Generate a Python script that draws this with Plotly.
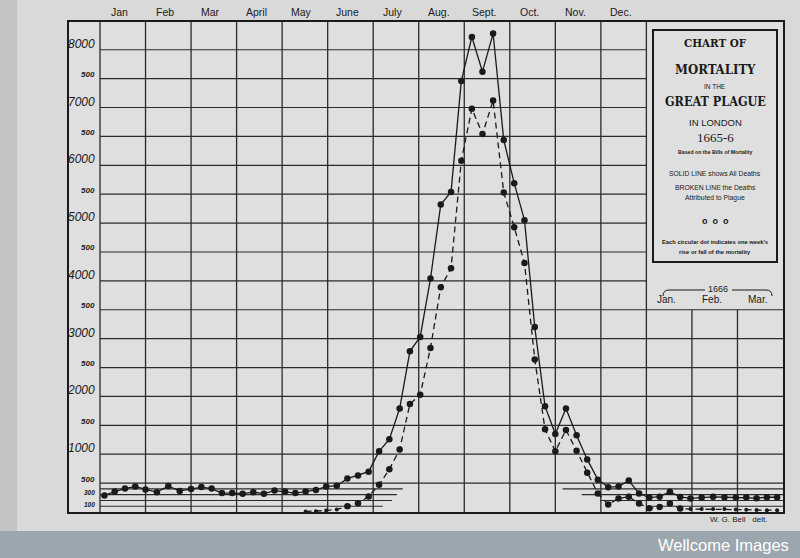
import calendar
import datetime as dt
import plotly.graph_objects as go

# ---------------- data ----------------
first_week_ending = dt.date(1665, 1, 3)

# SOLID LINE: all deaths, one value per weekly Bill of Mortality
all_deaths = [
    287, 354, 406, 443, 390, 343, 448, 365, 396, 432, 406, 328, 328,
    318, 343, 318, 370, 354, 328, 354, 381, 440, 455, 578, 632, 698,
    1050, 1260, 1790, 2780, 3030, 4040, 5320, 5540, 7460, 8220, 7620,
    8280, 6440, 5690, 5050, 3200, 1830, 1350, 1790, 1330, 910, 560,
    430, 440, 545, 320,
    250, 265, 350, 260, 235, 250, 262, 255, 250, 255, 240, 255, 255,
]

# BROKEN LINE: deaths attributed to plague (not drawn before mid-May)
plague_deaths = [None] * 19 + [
    10, 15, 25, 45, 100, 150, 270,
    470, 740, 1080, 1870, 2030, 2840, 3890, 4220, 6080, 6980, 6540,
    7120, 5530, 4930, 4310, 2640, 1430, 1050, 1420, 1060, 680, 320,
    130, 235, 265, 145,
    65, 85, 145, 60, 50, 50, 50, 50, 45, 40, 35, 30, 30,
]

month_labels_1665 = ["Jan", "Feb", "Mar", "April", "May", "June", "July",
                     "Aug.", "Sept.", "Oct.", "Nov.", "Dec."]
month_labels_1666 = ["Jan.", "Feb.", "Mar."]

y_label_values = [8000, 7500, 7000, 6500, 6000, 5500, 5000, 4500, 4000,
                  3500, 3000, 2500, 2000, 1500, 1000, 500, 300, 100]
y_label_texts = ["8000", "500", "7000", "500", "6000", "500", "5000", "500",
                 "4000", "500", "3000", "500", "2000", "500", "1000", "500",
                 "300", "100"]
grid_values = [500, 1000, 1500, 2000, 2500, 3000, 3500, 4000, 4500, 5000,
               5500, 6000, 6500, 7000, 7500, 8000]
low_line_values = [400, 300, 200, 100]

# ---------------- helpers ----------------
week_dates = [first_week_ending + dt.timedelta(weeks=i) for i in range(len(all_deaths))]


def month_position(d):
    months = (d.year - 1665) * 12 + (d.month - 1)
    return months + d.day / calendar.monthrange(d.year, d.month)[1]


xpos = [month_position(d) for d in week_dates]
hover = [d.isoformat() for d in week_dates]

INK = "#1a1a1a"
GRID = "#2b2b2b"
PAPER = "#d9d9d9"
PLOT = "#dfdfdf"
SANS = "Liberation Sans, Arial, sans-serif"
HAND = "Liberation Sans, Arial, sans-serif"
TITLE = "DejaVu Serif Condensed, DejaVu Sans Condensed, Liberation Serif, serif"

FL, FR, FT, FB = 69, 783, 22, 512   # outer frame in pixels
GRID_L = 100                        # pixel where January 1665 starts
N_MONTHS = 15
PX_PER_MONTH = (FR - GRID_L) / N_MONTHS
XMIN = -(GRID_L - FL) / PX_PER_MONTH
YMAX = 8480
PANEL_MONTH = 12     # title panel sits above Jan-Mar 1666
PANEL_FLOOR = 3500


def px(x):
    return (x - FL) / (FR - FL)


def py(y):
    return (FB - y) / (FB - FT)


fig = go.Figure()
fig.add_trace(go.Scatter(
    x=xpos, y=all_deaths, mode="lines+markers", name="All deaths",
    text=hover, line=dict(color=INK, width=1.3),
    marker=dict(size=6.5, color=INK, opacity=1, line=dict(width=0))))
plague_sizes = [4 if (v is not None and v < 60) else 6.5 for v in plague_deaths]
fig.add_trace(go.Scatter(
    x=xpos, y=plague_deaths, mode="lines+markers", name="Plague deaths",
    text=hover, line=dict(color=INK, width=1.3, dash="6px,4px"),
    marker=dict(size=plague_sizes, color=INK, opacity=1, line=dict(width=0))))

fig.update_layout(
    width=800, height=558,
    margin=dict(l=FL, r=800 - FR, t=FT, b=558 - FB),
    paper_bgcolor=PAPER, plot_bgcolor=PLOT,
    showlegend=False,
    xaxis=dict(range=[XMIN, N_MONTHS], showgrid=False, showticklabels=False,
               ticks="", zeroline=False, showline=True, mirror=True,
               linecolor=INK, linewidth=1.6),
    yaxis=dict(range=[0, YMAX], showgrid=False, showticklabels=False,
               ticks="", zeroline=False, showline=True, mirror=True,
               linecolor=INK, linewidth=1.6),
)

shapes = []
# darker scan edge at left
shapes.append(dict(type="rect", xref="paper", yref="paper", x0=px(0), x1=px(17),
                   y0=py(531), y1=py(0), fillcolor="#c3c3c3", line=dict(width=0),
                   layer="below"))
# horizontal rules every 500
for v in grid_values:
    x1 = N_MONTHS if v <= PANEL_FLOOR else PANEL_MONTH
    shapes.append(dict(type="line", xref="x", yref="y", x0=0, x1=x1, y0=v, y1=v,
                       line=dict(color=GRID, width=1.2), layer="below"))
# vertical month rules
for m in range(0, N_MONTHS):
    top = PANEL_FLOOR if m > PANEL_MONTH else YMAX
    shapes.append(dict(type="line", xref="x", yref="y", x0=m, x1=m, y0=0, y1=top,
                       line=dict(color=GRID, width=1.3), layer="below"))
# short guide lines near the base (100-400)
left_ends = [6.65, 6.52, 6.41, 6.21]
right_starts = [10.16, 10.58, 10.98, 12.12]
for v, le, rs in zip(low_line_values, left_ends, right_starts):
    shapes.append(dict(type="line", xref="x", yref="y", x0=0, x1=le, y0=v, y1=v,
                       line=dict(color=GRID, width=1.1), layer="below"))
    shapes.append(dict(type="line", xref="x", yref="y", x0=rs, x1=N_MONTHS, y0=v, y1=v,
                       line=dict(color=GRID, width=1.1), layer="below"))
# title box
shapes.append(dict(type="rect", xref="paper", yref="paper", x0=px(653), x1=px(777),
                   y0=py(262), y1=py(30), line=dict(color=INK, width=2)))
# braces around 1666
shapes.append(dict(type="path", xref="paper", yref="paper",
                   path=f"M {px(663)},{py(296)} Q {px(663)},{py(290)} {px(669)},{py(290)} L {px(705)},{py(290)}",
                   line=dict(color=INK, width=1)))
shapes.append(dict(type="path", xref="paper", yref="paper",
                   path=f"M {px(732)},{py(290)} L {px(766)},{py(290)} Q {px(772)},{py(290)} {px(772)},{py(296)}",
                   line=dict(color=INK, width=1)))
# Wellcome banner
shapes.append(dict(type="rect", xref="paper", yref="paper", x0=px(0), x1=px(800),
                   y0=py(558), y1=py(531), fillcolor="#9ba6ae", line=dict(width=0)))
fig.update_layout(shapes=shapes)

ann = []
# month labels along the top
for i, m in enumerate(month_labels_1665):
    ann.append(dict(x=i + 0.5, xref="x", xanchor="center", y=1, yref="paper",
                    yanchor="bottom", yshift=2, xshift=-3, text=m, showarrow=False,
                    font=dict(family=SANS, size=10.5, color=INK)))
# y labels in the left column
for v, t in zip(y_label_values, y_label_texts):
    if v % 1000 == 0:
        f = dict(family=HAND, size=12, color=INK, style="italic")
        ys = 6
    elif v % 500 == 0:
        f = dict(family=HAND, size=8, color=INK, style="italic", weight="bold")
        ys = 4
    else:
        f = dict(family=HAND, size=6.5, color=INK, style="italic", weight="bold")
        ys = 2
    ann.append(dict(x=0, xref="x", xanchor="right", xshift=-3, y=v, yref="y",
                    yanchor="middle", yshift=ys, text=t, showarrow=False, font=f))
# title block text
rows = [
    ("CHART OF", 43, 11.5, TITLE, "bold"),
    ("MORTALITY", 70, 13, TITLE, "bold"),
    ("IN THE", 86, 6.5, SANS, "normal"),
    ("GREAT PLAGUE", 102, 12.5, TITLE, "bold"),
    ("IN LONDON", 122, 9.5, SANS, "normal"),
    ("1665-6", 137, 13, "Liberation Serif, serif", "normal"),
    ("Based on the Bills of Mortality", 152, 5.2, SANS, "bold"),
    ("SOLID LINE shows All Deaths", 173, 6.8, SANS, "normal"),
    ("BROKEN LINE the Deaths", 188, 6.8, SANS, "normal"),
    ("Attributed to Plague", 198, 6.8, SANS, "normal"),
    ("o  o  o", 221, 9, SANS, "bold"),
    ("Each circular dot indicates one week's", 242, 5.8, SANS, "bold"),
    ("rise or fall of the mortality", 252, 5.8, SANS, "bold"),
]
for text, ypx, size, fam, weight in rows:
    ann.append(dict(x=px(715), xref="paper", y=py(ypx), yref="paper",
                    xanchor="center", yanchor="middle", text=text, showarrow=False,
                    font=dict(family=fam, size=size, color=INK, weight=weight)))
# 1666 month labels
ann.append(dict(x=px(718), xref="paper", xanchor="center", y=py(289), yref="paper",
                yanchor="middle", text="1666", showarrow=False,
                font=dict(family=SANS, size=9, color=INK)))
for i, m in enumerate(month_labels_1666):
    ann.append(dict(x=PANEL_MONTH + i + 0.45, xref="x", xanchor="center", y=py(300),
                    yref="paper", text=m, showarrow=False, yanchor="middle",
                    font=dict(family=SANS, size=10, color=INK)))
ann.append(dict(x=px(738), xref="paper", xanchor="center", y=py(519), yref="paper",
                yanchor="middle", text="W. G. Bell&nbsp;&nbsp;&nbsp;delt.", showarrow=False,
                font=dict(family=SANS, size=8, color=INK)))
ann.append(dict(x=px(791), xref="paper", xanchor="right", y=py(545), yref="paper",
                yanchor="middle", text="Wellcome Images", showarrow=False,
                font=dict(family=SANS, size=16.5, color="#ffffff")))
fig.update_layout(annotations=ann)

fig.write_html(
    "out.html",
    config={"displayModeBar": False},
    post_script="document.body.style.margin='0';document.body.style.overflow='hidden';"
                "document.body.style.background='#d9d9d9';",
)
